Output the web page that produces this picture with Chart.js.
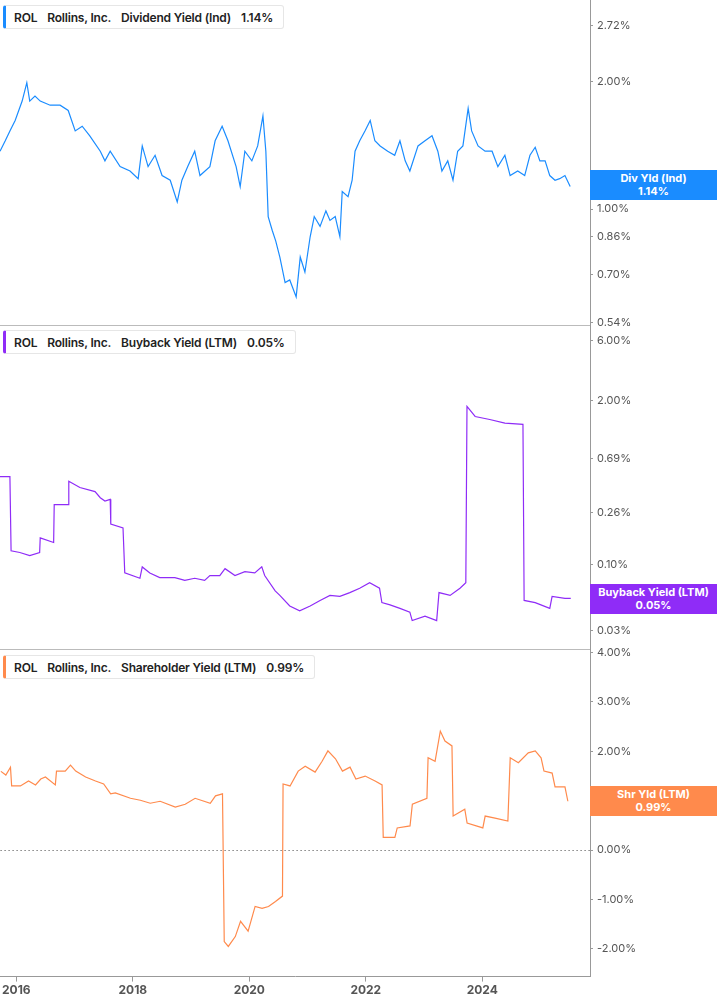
<!DOCTYPE html>
<html>
<head>
<meta charset="utf-8">
<script src="https://cdn.jsdelivr.net/npm/chart.js@4/dist/chart.umd.min.js"></script>
<style>
  body { margin: 0; background: #fff; font-family: Inter, "Noto Sans", sans-serif; }
  #wrap { position: relative; width: 717px; height: 1005px; overflow: hidden; }
  .pane { position: absolute; left: 0; width: 717px; }
  .legend { position: absolute; left: 3px; height: 24px; background: #fff; border: 1px solid #e6e6e6;
            border-left: 3px solid; border-radius: 3px; font-size: 12px; font-weight: 600; color: #222;
            display: flex; align-items: center; gap: 10px; padding: 0 10px 0 8px; box-sizing: border-box; letter-spacing: -0.2px; }
  .tag { position: absolute; left: 590px; width: 127px; height: 30px; color: #fff; font-size: 11px; font-weight: 700;
         text-align: center; line-height: 13px; padding-top: 2px; box-sizing: border-box; }
  .sep { position: absolute; left: 0; width: 590px; height: 1px; background: #bbb; }
</style>
</head>
<body>
<div id="wrap">
  <div class="pane" style="top:-10px;height:347px"><canvas id="c1"></canvas></div>
  <div class="pane" style="top:316px;height:346px"><canvas id="c2"></canvas></div>
  <div class="pane" style="top:640px;height:360px"><canvas id="c3"></canvas></div>
  <div class="sep" style="top:325px"></div>
  <div class="sep" style="top:649px"></div>

  <div class="legend" style="top:5px;border-left-color:#1a8cff"><span>ROL</span><span>Rollins, Inc.</span><span>Dividend Yield (Ind)</span><span>1.14%</span></div>
  <div class="legend" style="top:330px;border-left-color:#8f2cf7"><span>ROL</span><span>Rollins, Inc.</span><span>Buyback Yield (LTM)</span><span>0.05%</span></div>
  <div class="legend" style="top:655px;border-left-color:#ff8a4c"><span>ROL</span><span>Rollins, Inc.</span><span>Shareholder Yield (LTM)</span><span>0.99%</span></div>

  <div class="tag" style="top:170px;background:#1a8cff">Div Yld (Ind)<br>1.14%</div>
  <div class="tag" style="top:584px;background:#8f2cf7">Buyback Yield (LTM)<br>0.05%</div>
  <div class="tag" style="top:786px;background:#ff8a4c">Shr Yld (LTM)<br>0.99%</div>
</div>
<script>
// ----------------------------------------------------------------
//  Data (years as decimals, values in %)
// ----------------------------------------------------------------
const yearTicks = [2016, 2018, 2020, 2022, 2024];

const divYears = [2015.73,2015.82,2015.90,2015.99,2016.11,2016.19,2016.24,2016.33,2016.42,2016.59,2016.76,2016.90,2017.02,2017.14,2017.27,2017.45,2017.53,2017.62,2017.79,2017.96,2018.10,2018.17,2018.27,2018.39,2018.51,2018.65,2018.77,2018.85,2018.95,2019.07,2019.16,2019.33,2019.42,2019.54,2019.64,2019.78,2019.85,2019.93,2020.05,2020.15,2020.24,2020.29,2020.33,2020.40,2020.46,2020.53,2020.62,2020.70,2020.81,2020.88,2020.96,2021.05,2021.12,2021.22,2021.32,2021.39,2021.48,2021.56,2021.60,2021.70,2021.77,2021.82,2021.90,2021.99,2022.08,2022.16,2022.25,2022.38,2022.50,2022.59,2022.68,2022.76,2022.90,2023.02,2023.14,2023.24,2023.31,2023.41,2023.50,2023.58,2023.67,2023.76,2023.82,2023.93,2024.05,2024.17,2024.27,2024.39,2024.48,2024.61,2024.73,2024.82,2024.91,2024.99,2025.08,2025.16,2025.25,2025.33,2025.42,2025.51];
const divYield = [1.37,1.45,1.53,1.62,1.80,1.99,1.80,1.85,1.80,1.76,1.76,1.71,1.53,1.57,1.49,1.37,1.30,1.37,1.26,1.23,1.18,1.41,1.26,1.34,1.20,1.17,1.04,1.17,1.26,1.37,1.20,1.26,1.45,1.57,1.45,1.26,1.13,1.37,1.30,1.41,1.66,1.37,0.96,0.89,0.84,0.77,0.67,0.68,0.62,0.77,0.71,0.86,0.96,0.91,0.99,0.94,0.96,0.86,1.10,1.07,1.17,1.37,1.45,1.53,1.62,1.45,1.41,1.37,1.34,1.45,1.30,1.23,1.41,1.45,1.49,1.37,1.23,1.30,1.17,1.37,1.41,1.73,1.53,1.41,1.37,1.37,1.26,1.34,1.20,1.23,1.20,1.34,1.40,1.30,1.30,1.20,1.17,1.18,1.20,1.13];

const bbYears = [2015.73,2015.90,2015.92,2016.07,2016.24,2016.41,2016.42,2016.65,2016.66,2016.90,2016.91,2017.10,2017.36,2017.45,2017.53,2017.62,2017.63,2017.84,2017.87,2018.13,2018.17,2018.30,2018.47,2018.73,2018.90,2019.07,2019.24,2019.33,2019.50,2019.59,2019.76,2019.93,2020.10,2020.22,2020.27,2020.45,2020.53,2020.70,2020.87,2021.05,2021.22,2021.39,2021.56,2021.73,2021.90,2022.07,2022.24,2022.28,2022.42,2022.59,2022.76,2022.80,2023.02,2023.22,2023.26,2023.45,2023.62,2023.72,2023.74,2023.88,2024.13,2024.39,2024.70,2024.72,2024.91,2025.16,2025.20,2025.42,2025.52];
const bbYield = [0.50,0.50,0.129,0.125,0.118,0.125,0.163,0.150,0.30,0.30,0.46,0.41,0.38,0.34,0.32,0.33,0.21,0.196,0.086,0.078,0.096,0.086,0.079,0.079,0.075,0.078,0.075,0.082,0.082,0.093,0.082,0.088,0.086,0.096,0.082,0.062,0.057,0.047,0.043,0.047,0.052,0.057,0.056,0.060,0.065,0.072,0.065,0.050,0.048,0.045,0.042,0.036,0.039,0.036,0.060,0.057,0.065,0.072,1.80,1.50,1.42,1.33,1.30,0.052,0.050,0.045,0.056,0.054,0.054];

const shrYears = [2015.73,2015.82,2015.90,2015.92,2016.07,2016.21,2016.33,2016.42,2016.50,2016.67,2016.69,2016.84,2016.93,2017.02,2017.19,2017.36,2017.50,2017.62,2017.70,2017.96,2018.13,2018.30,2018.47,2018.73,2018.90,2019.07,2019.33,2019.42,2019.54,2019.57,2019.64,2019.76,2019.85,2019.98,2020.10,2020.22,2020.33,2020.45,2020.57,2020.58,2020.70,2020.84,2020.96,2021.13,2021.25,2021.35,2021.48,2021.60,2021.73,2021.83,2021.99,2022.16,2022.28,2022.30,2022.50,2022.54,2022.76,2022.80,2023.05,2023.07,2023.19,2023.28,2023.36,2023.48,2023.50,2023.70,2023.74,2024.01,2024.05,2024.22,2024.44,2024.48,2024.62,2024.79,2024.91,2025.01,2025.06,2025.20,2025.25,2025.42,2025.47];
const shrYield = [1.60,1.52,1.68,1.30,1.30,1.40,1.32,1.44,1.48,1.32,1.60,1.60,1.72,1.60,1.48,1.40,1.34,1.14,1.16,1.05,1.01,0.95,0.99,0.87,0.93,1.05,0.95,1.10,1.14,-1.85,-1.95,-1.75,-1.44,-1.64,-1.14,-1.18,-1.14,-1.04,-0.93,1.34,1.30,1.60,1.70,1.58,1.80,2.01,1.85,1.60,1.68,1.44,1.50,1.40,1.32,0.26,0.26,0.45,0.49,0.93,1.05,1.87,1.80,2.41,2.21,2.11,0.69,0.83,0.55,0.45,0.69,0.65,0.59,1.87,1.77,1.97,2.01,1.87,1.60,1.56,1.28,1.28,0.99];

const divTicks = [0.54, 0.70, 0.86, 1.00, 2.00, 2.72];
const bbTicks  = [0.03, 0.10, 0.26, 0.69, 2.00, 6.00];
const shrTicks = [-2, -1, 0, 1, 2, 3, 4];

// ----------------------------------------------------------------
//  Common helpers
// ----------------------------------------------------------------
const xMin = 2015.73, xMax = 2025.85;
const font = { family: 'Inter, "Noto Sans", sans-serif', size: 11 };

const pts = (xs, ys) => xs.map((x, i) => ({ x, y: ys[i] }));

// dotted zero line for the shareholder pane
const zeroLine = {
  id: 'zeroLine',
  beforeDatasetsDraw(chart) {
    if (!chart.options.plugins.zeroLine) return;
    const { ctx, chartArea, scales } = chart;
    const y = Math.round(scales.y.getPixelForValue(0)) + 0.5;
    ctx.save();
    ctx.strokeStyle = '#444';
    ctx.lineWidth = 1;
    ctx.setLineDash([1, 3]);
    ctx.beginPath();
    ctx.moveTo(chartArea.left, y);
    ctx.lineTo(chartArea.right, y);
    ctx.stroke();
    ctx.restore();
  }
};

const makePane = (id, xs, ys, color, yType, yMin, yMax, yTicks, showX) => {
  new Chart(document.getElementById(id), {
    type: 'line',
    data: { datasets: [{ data: pts(xs, ys), borderColor: color, borderWidth: 1.2, pointRadius: 0, tension: 0 }] },
    options: {
      responsive: true,
      maintainAspectRatio: false,
      animation: false,
      layout: { padding: 0 },
      plugins: { legend: { display: false }, tooltip: { enabled: false }, zeroLine: showX },
      scales: {
        x: {
          type: 'linear', min: xMin, max: xMax, display: showX,
          afterBuildTicks: s => { s.ticks = yearTicks.map(v => ({ value: v })); },
          grid: { drawOnChartArea: false, tickLength: 5, color: '#999' },
          border: { color: '#999' },
          ticks: { color: '#555', font: { ...font, size: 12, weight: 'bold' }, callback: v => String(v), padding: 2 }
        },
        y: {
          type: yType, position: 'right', min: yMin, max: yMax,
          afterBuildTicks: s => { s.ticks = yTicks.map(v => ({ value: v })); },
          afterFit: s => { s.width = 127; },
          grid: { drawOnChartArea: false, tickLength: 3, color: '#999' },
          border: { color: '#999' },
          ticks: { color: '#555', font, padding: 4, callback: v => v.toFixed(2) + '%' }
        }
      }
    },
    plugins: [zeroLine]
  });
};

makePane('c1', divYears, divYield, '#1a8cff', 'logarithmic', 0.528, 3.11, divTicks, false);
makePane('c2', bbYears, bbYield, '#8f2cf7', 'logarithmic', 0.0205, 7.75, bbTicks, false);
makePane('c3', shrYears, shrYield, '#ff8a4c', 'linear', -2.56, 4.04, shrTicks, true);
</script>
</body>
</html>
